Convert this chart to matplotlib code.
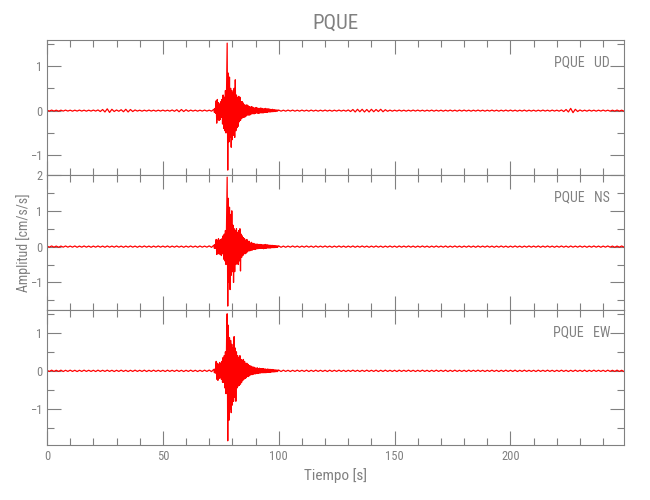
import numpy as np
import matplotlib
matplotlib.use("Agg")
import matplotlib.pyplot as plt
from matplotlib import font_manager
from matplotlib.ticker import MultipleLocator

names = {f.name for f in font_manager.fontManager.ttflist}
fam = [f for f in ["Liberation Sans Narrow", "Roboto Condensed", "DejaVu Sans"] if f in names]
plt.rcParams["font.family"] = fam

title = "PQUE"
components = ["UD", "NS", "EW"]
xlabel = "Tiempo [s]"
ylabel = "Amplitud [cm/s/s]"

# sampling segments (s)
t_pre = np.arange(0, 72, 1.0)
t_event = np.arange(72, 100, 0.25)
t_post = np.arange(100, 250, 1.0)

ud_pre = [0.01,-0.01,0.012,-0.01,0.01,-0.012,0.01,-0.01,0.012,-0.01,
          0.01,-0.012,0.01,-0.01,0.012,-0.01,0.01,-0.012,0.01,-0.01,
          0.012,-0.01,0.015,-0.02,0.025,-0.03,0.04,-0.04,0.03,-0.02,
          0.015,-0.015,0.02,-0.025,0.03,-0.03,0.025,-0.02,0.015,-0.01,
          0.01,-0.012,0.01,-0.01,0.012,-0.01,0.01,-0.012,0.01,-0.01,
          0.012,-0.01,0.01,-0.012,0.015,-0.015,0.02,-0.025,0.025,-0.02,
          0.02,-0.015,0.012,-0.01,0.01,-0.012,0.01,-0.01,0.012,-0.01,
          0.01,-0.012]
ud_event = [0.03,-0.04,0.05,-0.06, 0.22,-0.28,0.25,-0.20, 0.18,-0.22,0.15,-0.20,
            0.20,-0.15,0.25,-0.30, 0.35,-0.40,0.30,-0.45, 0.45,-0.50,0.60,1.51,
            -1.33,0.84,-0.70,0.75, -0.60,0.50,-0.82,0.45, -0.65,0.40,-0.55,0.50,
            -0.60,0.69,-0.45,0.35, -0.38,0.30,-0.35,0.32, -0.25,0.30,-0.22,0.20,
            -0.18,0.20,-0.15,0.17, -0.15,0.13,-0.14,0.12, -0.12,0.13,-0.10,0.11,
            -0.10,0.09,-0.10,0.08, -0.08,0.09,-0.07,0.08, -0.07,0.06,-0.07,0.06,
            -0.06,0.07,-0.05,0.06, -0.06,0.05,-0.06,0.05, -0.05,0.06,-0.05,0.05,
            -0.05,0.04,-0.05,0.04, -0.04,0.05,-0.04,0.04, -0.04,0.04,-0.03,0.04,
            -0.03,0.03,-0.03,0.025, -0.025,0.03,-0.025,0.02, -0.02,0.02,-0.02,0.015,
            -0.015,0.015,-0.012,0.012]
ud_post = [0.012,-0.012,0.01,-0.012,0.012,-0.01,0.012,-0.012,0.01,-0.012,
           0.012,-0.01,0.01,-0.012,0.012,-0.01,0.01,-0.012,0.01,-0.01,
           0.012,-0.01,0.01,-0.012,0.01,-0.01,0.012,-0.01,0.01,-0.012,
           0.015,-0.02,0.025,-0.03,0.03,-0.025,0.03,-0.03,0.025,-0.03,
           0.03,-0.025,0.025,-0.02,0.03,-0.025,0.02,-0.015,0.012,-0.012,
           0.01,-0.01,0.012,-0.01,0.01,-0.012,0.01,-0.01,0.012,-0.01,
           0.012,-0.01,0.01,-0.012,0.01,-0.01,0.012,-0.012,0.01,-0.01,
           0.01,-0.012,0.01,-0.01,0.012,-0.01,0.01,-0.012,0.012,-0.01,
           0.012,-0.01,0.01,-0.012,0.01,-0.01,0.012,-0.01,0.01,-0.012,
           0.01,-0.01,0.012,-0.01,0.01,-0.012,0.01,-0.01,0.012,-0.01,
           0.012,-0.01,0.01,-0.012,0.01,-0.01,0.012,-0.012,0.01,-0.01,
           0.01,-0.012,0.01,-0.01,0.012,-0.01,0.01,-0.012,0.012,-0.01,
           0.01,-0.012,0.015,-0.02,0.025,-0.03,0.05,-0.045,0.03,-0.02,
           0.015,-0.012,0.01,-0.012,0.012,-0.01,0.01,-0.012,0.01,-0.01,
           0.012,-0.01,0.01,-0.012,0.01,-0.01,0.012,-0.01,0.01,-0.012]

ns_pre = [0.015,-0.015,0.018,-0.015,0.015,-0.018,0.015,-0.015,0.018,-0.015,
          0.015,-0.015,0.018,-0.018,0.015,-0.015,0.018,-0.015,0.015,-0.018,
          0.015,-0.015,0.018,-0.015,0.015,-0.018,0.018,-0.015,0.015,-0.015,
          0.018,-0.015,0.015,-0.018,0.015,-0.015,0.018,-0.015,0.015,-0.018,
          0.015,-0.015,0.018,-0.015,0.015,-0.018,0.015,-0.015,0.018,-0.015,
          0.015,-0.015,0.018,-0.018,0.015,-0.015,0.018,-0.015,0.015,-0.018,
          0.015,-0.015,0.018,-0.015,0.015,-0.018,0.018,-0.015,0.015,-0.015,
          0.02,-0.02]
ns_event = [0.04,-0.05,0.06,-0.05, 0.20,-0.22,0.18,-0.20, 0.22,-0.20,0.18,-0.22,
            0.20,-0.25,0.22,-0.20, 0.30,-0.35,0.35,-0.40, 0.45,-0.50,0.70,1.94,
            -1.66,1.35,-1.00,1.10, -1.20,0.90,-0.80,1.00, -0.70,0.60,-1.00,0.50,
            -0.70,0.45,-0.50,0.50, -0.45,0.40,-0.50,0.45, -0.40,0.50,-0.68,0.35,
            -0.30,0.30,-0.25,0.25, -0.20,0.22,-0.20,0.18, -0.18,0.20,-0.15,0.15,
            -0.12,0.15,-0.12,0.10, -0.10,0.12,-0.10,0.09, -0.08,0.09,-0.08,0.07,
            -0.08,0.07,-0.06,0.07, -0.06,0.06,-0.05,0.06, -0.05,0.06,-0.05,0.05,
            -0.05,0.05,-0.06,0.05, -0.05,0.06,-0.05,0.05, -0.04,0.05,-0.04,0.04,
            -0.04,0.04,-0.04,0.035, -0.03,0.035,-0.03,0.03, -0.03,0.025,-0.025,0.025,
            -0.02,0.02,-0.02,0.02]
ns_post = [0.02,-0.018,0.015,-0.018,0.015,-0.015,0.018,-0.015,0.015,-0.018,
           0.015,-0.015,0.018,-0.015,0.015,-0.018,0.018,-0.015,0.015,-0.015,
           0.018,-0.015,0.015,-0.018,0.015,-0.015,0.018,-0.015,0.015,-0.018,
           0.015,-0.015,0.018,-0.018,0.015,-0.015,0.018,-0.015,0.015,-0.018,
           0.015,-0.015,0.018,-0.015,0.015,-0.018,0.015,-0.015,0.018,-0.015,
           0.015,-0.018,0.018,-0.015,0.015,-0.015,0.018,-0.015,0.015,-0.018,
           0.015,-0.015,0.018,-0.015,0.015,-0.018,0.015,-0.015,0.018,-0.015,
           0.015,-0.015,0.018,-0.018,0.015,-0.015,0.018,-0.015,0.015,-0.018,
           0.015,-0.015,0.018,-0.015,0.015,-0.018,0.018,-0.015,0.015,-0.015,
           0.018,-0.015,0.015,-0.018,0.015,-0.015,0.018,-0.015,0.015,-0.018,
           0.015,-0.015,0.018,-0.015,0.015,-0.018,0.015,-0.015,0.018,-0.015,
           0.015,-0.015,0.018,-0.018,0.015,-0.015,0.018,-0.015,0.015,-0.018,
           0.015,-0.015,0.018,-0.015,0.015,-0.018,0.018,-0.015,0.015,-0.015,
           0.018,-0.015,0.015,-0.018,0.015,-0.015,0.018,-0.015,0.015,-0.018,
           0.015,-0.015,0.018,-0.015,0.015,-0.018,0.015,-0.015,0.018,-0.015]

ew_pre = [0.015,-0.015,0.018,-0.015,0.015,-0.015,0.018,-0.018,0.015,-0.015,
          0.018,-0.015,0.015,-0.018,0.015,-0.015,0.018,-0.015,0.015,-0.015,
          0.015,-0.018,0.018,-0.015,0.015,-0.015,0.018,-0.015,0.015,-0.018,
          0.015,-0.015,0.018,-0.015,0.015,-0.018,0.015,-0.015,0.018,-0.015,
          0.015,-0.015,0.018,-0.018,0.015,-0.015,0.018,-0.015,0.015,-0.015,
          0.015,-0.018,0.018,-0.015,0.015,-0.015,0.018,-0.015,0.015,-0.018,
          0.015,-0.015,0.018,-0.015,0.015,-0.018,0.015,-0.015,0.018,-0.015,
          0.02,-0.02]
ew_event = [0.04,-0.05,0.05,-0.06, 0.25,-0.22,0.20,-0.25, 0.18,-0.20,0.22,-0.18,
            0.20,-0.22,0.25,-0.30, 0.35,-0.30,0.40,-0.45, 0.50,-0.60,0.80,1.50,
            -1.84,1.20,-1.30,0.87, -1.00,0.80,-1.10,0.70, -0.90,0.60,-0.80,0.90,
            -0.70,0.60,-0.80,0.50, -0.45,0.40,-0.40,0.35, -0.38,0.40,-0.35,0.30,
            -0.30,0.28,-0.25,0.30, -0.22,0.25,-0.20,0.20, -0.18,0.20,-0.15,0.17,
            -0.15,0.14,-0.12,0.13, -0.10,0.12,-0.10,0.10, -0.09,0.10,-0.08,0.08,
            -0.08,0.07,-0.07,0.08, -0.07,0.06,-0.06,0.07, -0.06,0.06,-0.05,0.06,
            -0.05,0.06,-0.05,0.05, -0.05,0.05,-0.05,0.04, -0.04,0.05,-0.04,0.04,
            -0.04,0.04,-0.04,0.035, -0.03,0.035,-0.03,0.03, -0.03,0.025,-0.025,0.025,
            -0.02,0.02,-0.02,0.02]
ew_post = [0.02,-0.018,0.018,-0.015,0.015,-0.018,0.015,-0.015,0.018,-0.015,
           0.015,-0.015,0.018,-0.018,0.015,-0.015,0.018,-0.015,0.015,-0.015,
           0.015,-0.018,0.018,-0.015,0.015,-0.015,0.018,-0.015,0.015,-0.018,
           0.015,-0.015,0.018,-0.015,0.015,-0.018,0.015,-0.015,0.018,-0.015,
           0.015,-0.015,0.018,-0.018,0.015,-0.015,0.018,-0.015,0.015,-0.015,
           0.015,-0.018,0.018,-0.015,0.015,-0.015,0.018,-0.015,0.015,-0.018,
           0.015,-0.015,0.018,-0.015,0.015,-0.018,0.015,-0.015,0.018,-0.015,
           0.015,-0.015,0.018,-0.018,0.015,-0.015,0.018,-0.015,0.015,-0.015,
           0.015,-0.018,0.018,-0.015,0.015,-0.015,0.018,-0.015,0.015,-0.018,
           0.015,-0.015,0.018,-0.015,0.015,-0.018,0.015,-0.015,0.018,-0.015,
           0.015,-0.015,0.018,-0.018,0.015,-0.015,0.018,-0.015,0.015,-0.015,
           0.015,-0.018,0.018,-0.015,0.015,-0.015,0.018,-0.015,0.015,-0.018,
           0.015,-0.015,0.018,-0.015,0.015,-0.018,0.015,-0.015,0.018,-0.015,
           0.015,-0.015,0.018,-0.018,0.015,-0.015,0.018,-0.015,0.015,-0.015,
           0.015,-0.018,0.018,-0.015,0.015,-0.015,0.018,-0.015,0.015,-0.018]

ylims = [(-1.44, 1.58), (-1.77, 2.0), (-1.95, 1.6)]
xlim = (0, 249)

t = np.concatenate([t_pre, t_event, t_post])
traces = [np.array(ud_pre + ud_event + ud_post),
          np.array(ns_pre + ns_event + ns_post),
          np.array(ew_pre + ew_event + ew_post)]

gray = "#808080"
fig = plt.figure(figsize=(6.5, 5), dpi=100)
left, right = 47 / 650, 624 / 650
top, bottom = 1 - 40 / 500, 1 - 445 / 500
h = (top - bottom) / 3
axes = []
for k in range(3):
    ax = fig.add_axes([left, top - (k + 1) * h, right - left, h])
    ax.plot(t, traces[k], color="#ff0000", lw=0.9)
    ax.set_xlim(*xlim)
    ax.set_ylim(*ylims[k])
    ax.xaxis.set_major_locator(MultipleLocator(50))
    ax.xaxis.set_minor_locator(MultipleLocator(10))
    ax.yaxis.set_major_locator(MultipleLocator(1))
    ax.yaxis.set_minor_locator(MultipleLocator(0.5))
    ax.tick_params(which="both", direction="in", top=True, right=True,
                   color=gray, labelcolor=gray, labelsize=9, width=0.8)
    ax.tick_params(which="major", length=10)
    ax.tick_params(which="minor", length=5)
    for s in ax.spines.values():
        s.set_color(gray)
        s.set_linewidth(0.8)
    if k < 2:
        ax.tick_params(labelbottom=False)
    ax.text(0.976, 0.835, f"{title}   {components[k]}", transform=ax.transAxes,
            ha="right", va="center", color=gray, fontsize=10)
    axes.append(ax)

axes[0].set_title(title, color=gray, fontsize=15, pad=8)
axes[2].set_xlabel(xlabel, color=gray, fontsize=11, labelpad=4)
fig.text(0.036, top - 1.5 * h, ylabel, rotation=90, ha="center", va="center",
         color=gray, fontsize=10)

fig.savefig("out.png", dpi=100)
